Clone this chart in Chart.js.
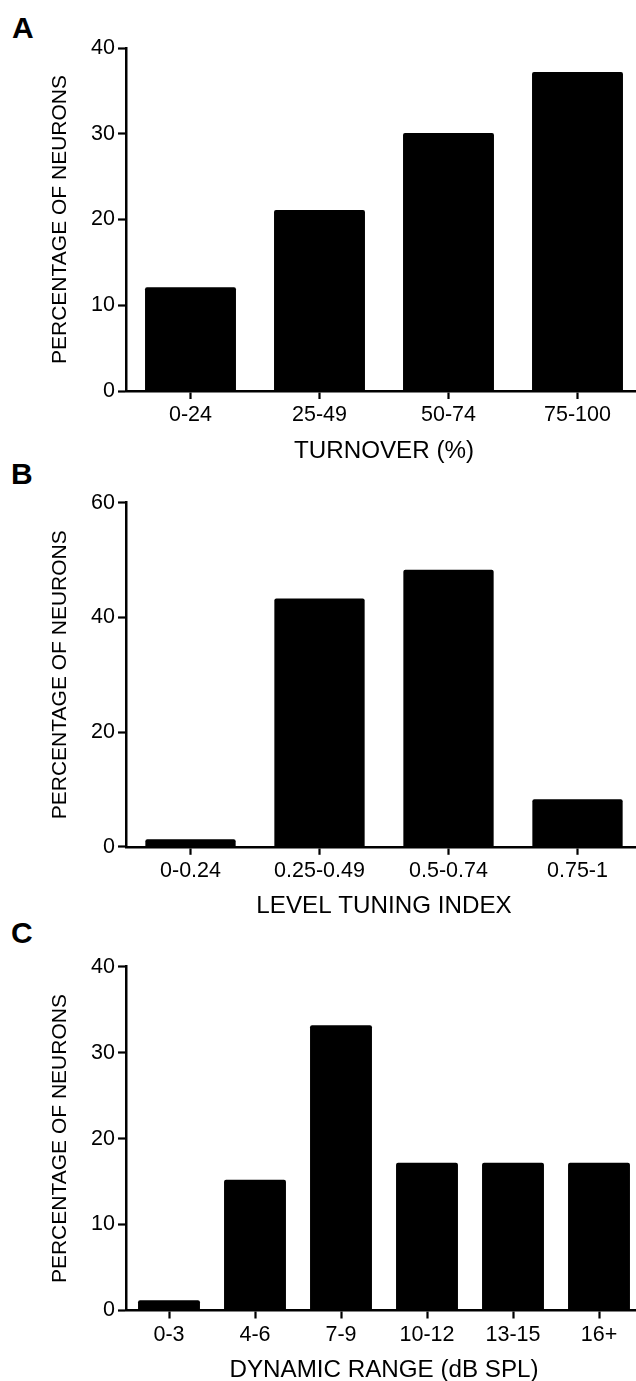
<!DOCTYPE html>
<html>
<head>
<meta charset="utf-8">
<script src="https://cdn.jsdelivr.net/npm/chart.js@4.4.1/dist/chart.umd.min.js"></script>
<style>
  html, body { margin: 0; padding: 0; background: #fff; overflow: hidden; width: 636px; height: 1381px; }
  .panel { position: absolute; left: 0; }
  .letter { position: absolute; font-family: "Liberation Sans", Arial, sans-serif; font-weight: bold; font-size: 30px; line-height: 30px; color: #000; }
</style>
</head>
<body>
<div class="letter" id="letterA" style="left:12px; top:12.6px;">A</div>
<div class="letter" id="letterB" style="left:11px; top:458.6px;">B</div>
<div class="letter" id="letterC" style="left:11px; top:917.6px;">C</div>
<canvas id="chartA" class="panel"></canvas>
<canvas id="chartB" class="panel"></canvas>
<canvas id="chartC" class="panel"></canvas>
<script>
// ---- data ----
const panelACategories = ['0-24', '25-49', '50-74', '75-100'];
const panelAValues = [12.1, 21.1, 30.1, 37.2];
const panelATicks = [0, 10, 20, 30, 40];
const panelAXTitle = 'TURNOVER (%)';

const panelBCategories = ['0-0.24', '0.25-0.49', '0.5-0.74', '0.75-1'];
const panelBValues = [1.3, 43.3, 48.3, 8.3];
const panelBTicks = [0, 20, 40, 60];
const panelBXTitle = 'LEVEL TUNING INDEX';

const panelCCategories = ['0-3', '4-6', '7-9', '10-12', '13-15', '16+'];
const panelCValues = [1.2, 15.2, 33.2, 17.2, 17.2, 17.2];
const panelCTicks = [0, 10, 20, 30, 40];
const panelCXTitle = 'DYNAMIC RANGE (dB SPL)';

const yTitle = 'PERCENTAGE OF NEURONS';

// ---- layout (page pixels) ----
const FONT = '"Liberation Sans", Arial, sans-serif';
const CANVAS_W = 650;
const AREA_LEFT = 126;
const AREA_RIGHT = 642;
const X_SCALE_H = 80;
const TICK_FONT = 21.5;
const XTITLE_FONT = 24.2;

Chart.defaults.font.family = FONT;
Chart.defaults.color = '#000';

function makePanel(id, canvasTop, plotTop, plotBottom, cats, vals, ticks, xTitle, barPct) {
  const canvasH = Math.ceil(plotBottom - canvasTop + X_SCALE_H + 4);
  const cv = document.getElementById(id);
  cv.width = CANVAS_W;
  cv.height = canvasH;
  cv.style.width = CANVAS_W + 'px';
  cv.style.height = canvasH + 'px';
  cv.style.top = canvasTop + 'px';
  const padTop = plotTop - canvasTop;
  const padBottom = canvasH - (plotBottom - canvasTop) - X_SCALE_H;
  return new Chart(cv, {
    type: 'bar',
    data: {
      labels: cats,
      datasets: [{
        data: vals,
        backgroundColor: '#000',
        borderWidth: 0,
        borderRadius: 2,
        barPercentage: barPct,
        categoryPercentage: 1.0
      }]
    },
    options: {
      responsive: false,
      animation: false,
      devicePixelRatio: 1,
      events: [],
      layout: { padding: { left: 0, right: CANVAS_W - AREA_RIGHT, top: padTop, bottom: padBottom } },
      plugins: { legend: { display: false }, tooltip: { enabled: false } },
      scales: {
        x: {
          offset: true,
          grid: { display: true, drawOnChartArea: false, drawTicks: true, tickLength: 8, tickWidth: 2.2, color: '#000', offset: false },
          border: { display: true, color: '#000', width: 2.5 },
          ticks: { font: { size: TICK_FONT }, color: '#000', padding: 3.5, maxRotation: 0, autoSkip: false },
          title: { display: true, text: xTitle, font: { size: XTITLE_FONT }, color: '#000', padding: { top: 0, bottom: X_SCALE_H - 60 - XTITLE_FONT * 0.6 } },
          afterFit: function (s) { s.height = X_SCALE_H; }
        },
        y: {
          min: ticks[0],
          max: ticks[ticks.length - 1],
          grid: { display: true, drawOnChartArea: false, drawTicks: true, tickLength: 8, tickWidth: 2.2, color: '#000' },
          border: { display: true, color: '#000', width: 2.5 },
          ticks: { font: { size: TICK_FONT }, color: '#000', padding: 3 },
          afterBuildTicks: function (s) { s.ticks = ticks.map(v => ({ value: v })); },
          title: { display: true, text: yTitle, font: { size: 21 }, color: '#000', padding: { top: 48, bottom: 0 } },
          afterFit: function (s) { s.width = AREA_LEFT; }
        }
      }
    }
  });
}

makePanel('chartA', 0, 48, 391, panelACategories, panelAValues, panelATicks, panelAXTitle, 0.705);
makePanel('chartB', 455, 502.7, 846.8, panelBCategories, panelBValues, panelBTicks, panelBXTitle, 0.7);
makePanel('chartC', 915, 966.7, 1310.5, panelCCategories, panelCValues, panelCTicks, panelCXTitle, 0.72);
</script>
</body>
</html>
